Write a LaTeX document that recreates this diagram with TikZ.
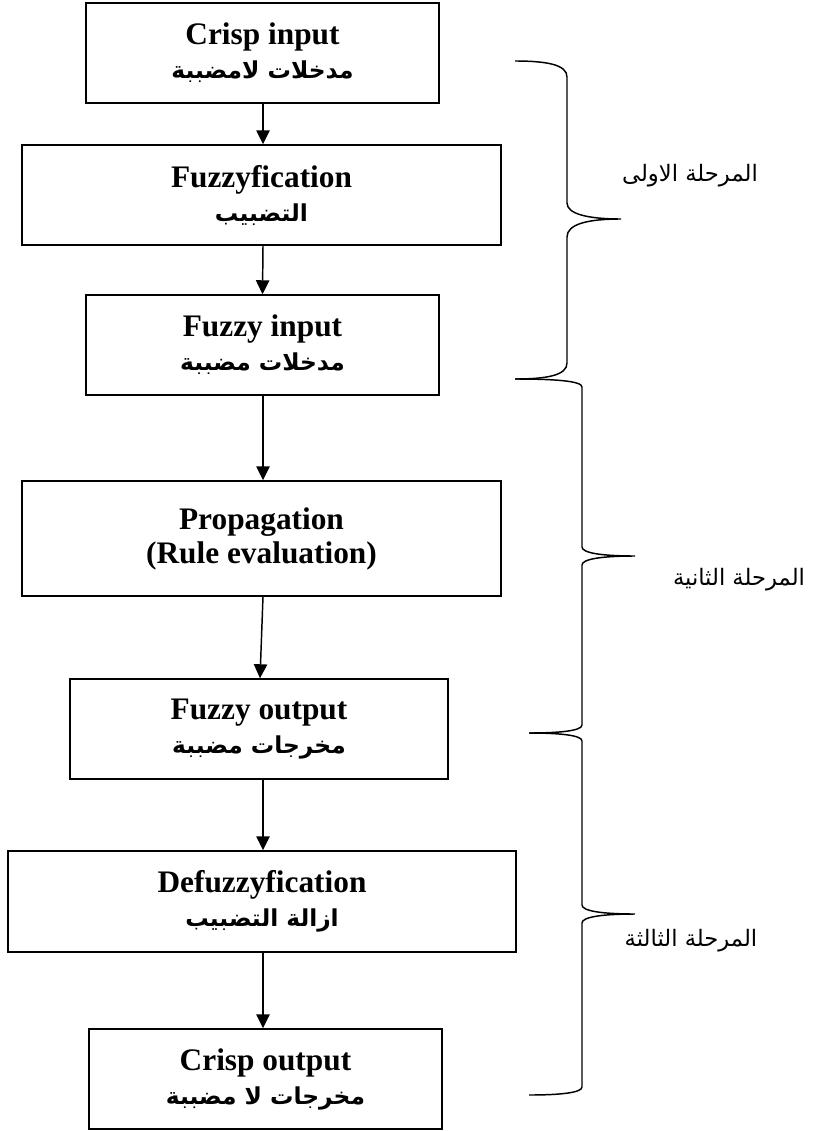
\documentclass[tikz,border=0pt]{standalone}
\usepackage{fontspec}
\usetikzlibrary{arrows.meta,calc}
\setmainfont{Liberation Serif}
\newfontfamily\arabicbold[Script=Arabic]{DejaVu Sans Bold}
\newfontfamily\arabicfont[Script=Arabic]{DejaVu Sans}
\TeXXeTstate=1
\newcommand{\ar}[1]{{\arabicbold\fontsize{17.5pt}{20pt}\selectfont\beginR #1\endR}}
\begin{document}
\begin{tikzpicture}[x=0.75pt,y=-0.75pt,
  stage/.style={draw, line width=1.1pt, rectangle, inner sep=0pt, align=center,
    font=\bfseries\fontsize{23.5pt}{25.5pt}\selectfont},
  flow/.style={line width=1.1pt, -{Triangle[width=10pt,length=10.5pt]}},
  brace/.style={line width=1.1pt},
  phase/.style={font=\arabicfont\fontsize{17pt}{20pt}\selectfont}]
\useasboundingbox (0,0) rectangle (815,1131);

% processing stages
\node[stage, minimum width=264.75pt, minimum height=75pt] (crispin) at (262.5,53)
  {Crisp input\\ \ar{مدخلات لامضببة}};
\node[stage, minimum width=359.25pt, minimum height=75pt] (fuzzif) at (261.5,195)
  {Fuzzyfication\\ \ar{التضبيب}};
\node[stage, minimum width=264.75pt, minimum height=75pt] (fuzzyin) at (262.5,345)
  {Fuzzy input\\ \ar{مدخلات مضببة}};
\node[stage, minimum width=359.25pt, minimum height=86.25pt] (prop) at (261.5,538.5)
  {Propagation\\ (Rule evaluation)};
\node[stage, minimum width=283.5pt, minimum height=75pt] (fuzzyout) at (259,729)
  {Fuzzy output\\ \ar{مخرجات مضببة}};
\node[stage, minimum width=381pt, minimum height=75.75pt] (defuzz) at (262,901.5)
  {Defuzzyfication\\ \ar{ازالة التضبيب}};
\node[stage, minimum width=264.75pt, minimum height=75pt] (crispout) at (265.5,1079)
  {Crisp output\\ \ar{مخرجات لا مضببة}};

% arrows between stages
\draw[flow] ($(crispin.south)+(0.5,0)$) -- ($(crispin.south |- fuzzif.north)+(0.5,0)$);
\draw[flow] ($(fuzzif.south)+(1.5,0)$) -- ($(fuzzif.south |- fuzzyin.north)+(1,0)$);
\draw[flow] ($(fuzzyin.south)+(0.5,0)$) -- ($(fuzzyin.south |- prop.north)+(0.5,0)$);
\draw[flow] ($(prop.south)+(1.5,0)$) -- ($(fuzzyout.north)+(1,0)$);
\draw[flow] ($(fuzzyout.south)+(4,0)$) -- ($(fuzzyout.south |- defuzz.north)+(4,0)$);
\draw[flow] ($(defuzz.south)+(1,0)$) -- ($(defuzz.south |- crispout.north)+(1,0)$);

% phase braces
\coordinate (tipA) at (621,219);
\coordinate (tipB) at (635,556);
\coordinate (tipC) at (635,914);
\draw[brace] (515,61) .. controls (548,61) and (567,65) .. (567,77) -- (567,203)
  .. controls (567,214) and (588,219) .. (tipA)
  .. controls (588,219) and (567,224) .. (567,237) -- (567,363)
  .. controls (567,375) and (548,379) .. (515,379);
\draw[brace] (515,379) .. controls (555,379) and (582,381) .. (582,387) -- (582,547)
  .. controls (582,553) and (602,556) .. (tipB)
  .. controls (602,556) and (582,559) .. (582,565) -- (582,725)
  .. controls (582,731) and (558,733) .. (529,733);
\draw[brace] (529,733) .. controls (558,733) and (582,735) .. (582,741) -- (582,905)
  .. controls (582,911) and (602,914) .. (tipC)
  .. controls (602,914) and (582,917) .. (582,923) -- (582,1087)
  .. controls (582,1093) and (558,1095) .. (529,1095);

% phase labels
\node[phase] (phaseA) at (690,176) {\beginR المرحلة الاولى\endR};
\node[phase] (phaseB) at (739,580) {\beginR المرحلة الثانية\endR};
\node[phase] (phaseC) at (691,941) {\beginR المرحلة الثالثة\endR};
\end{tikzpicture}
\end{document}
